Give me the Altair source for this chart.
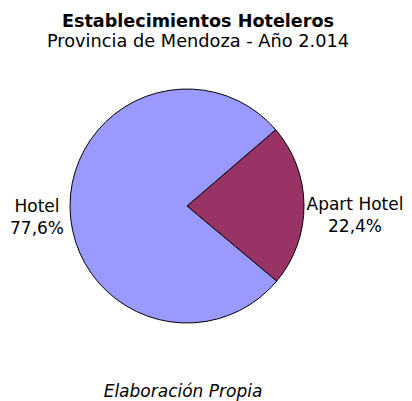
import altair as alt
import pandas as pd

categories = ["Apart Hotel", "Hotel"]
shares = [22.4, 77.6]
pct_labels = ["22,4%", "77,6%"]
colors = ["#993366", "#9999FF"]

title_text = "Establecimientos Hoteleros"
subtitle_text = "Provincia de Mendoza - Año 2.014"
footer_text = "Elaboración Propia"

df = pd.DataFrame({"category": categories, "share": shares, "pct": pct_labels})

FONT = "DejaVu Sans"
start = 49.3 * 3.141592653589793 / 180.0
theta_scale = alt.Scale(range=[start, start + 2 * 3.141592653589793])

base = alt.Chart(df).encode(
    theta=alt.Theta("share:Q", stack=True, scale=theta_scale),
    order=alt.Order("category:N", sort="ascending"),
)

pie = base.mark_arc(
    outerRadius=117, stroke="black", strokeWidth=1
).encode(
    x=alt.value(179),
    y=alt.value(138),
    color=alt.Color("category:N", scale=alt.Scale(domain=categories, range=colors), legend=None),
)

labels = base.transform_calculate(
    label="datum.category + '\\n' + datum.pct"
).mark_text(
    font=FONT, fontSize=17, color="black", align="center", baseline="middle",
    lineBreak="\n", lineHeight=22,
    radius=alt.ExprRef("datum.category === 'Hotel' ? 150 : 168"),
).encode(
    x=alt.value(179),
    y=alt.value(138),
    text="label:N",
)

footer = alt.Chart(pd.DataFrame({"t": [footer_text]})).mark_text(
    font=FONT, fontSize=17, fontStyle="italic", color="black", align="center", baseline="alphabetic"
).encode(
    x=alt.value(175),
    y=alt.value(329),
    text="t:N",
)

chart = alt.layer(pie, labels, footer).properties(
    width=396,
    height=340,
    padding={"left": 0, "right": 0, "top": 60, "bottom": 0},
    autosize=alt.AutoSizeParams(type="none"),
    background="white",
    title=alt.TitleParams(
        text=title_text, subtitle=subtitle_text, anchor="middle",
        font=FONT, fontSize=17.6, fontWeight="bold", color="black",
        subtitleFont=FONT, subtitleFontSize=17.75, subtitleColor="black",
        subtitlePadding=3, offset=17, dx=-8,
    ),
).configure_view(strokeWidth=0, stroke="transparent")

chart.save("out.html", embed_options={"renderer": "svg", "actions": False})
